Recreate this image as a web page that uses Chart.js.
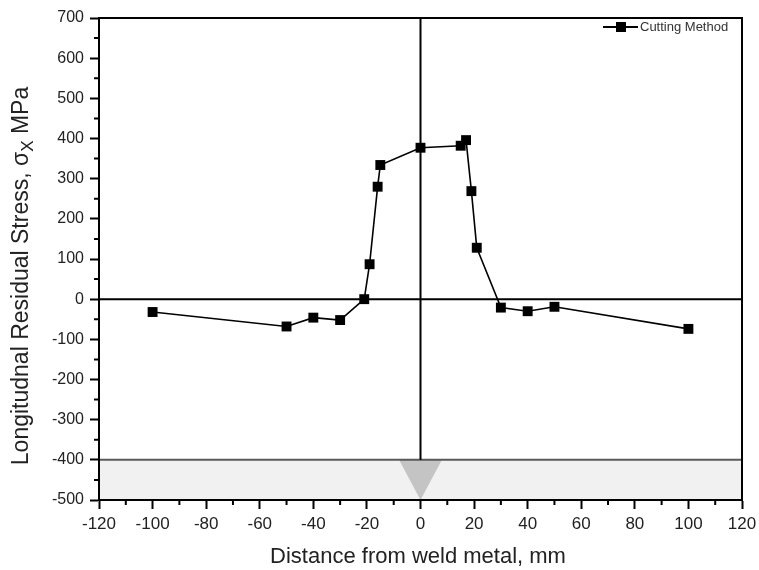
<!DOCTYPE html>
<html>
<head>
<meta charset="utf-8">
<script src="https://cdn.jsdelivr.net/npm/chart.js@4/dist/chart.umd.min.js"></script>
<style>
  html, body { margin: 0; padding: 0; background: #fff; }
  #wrap { width: 759px; height: 570px; }
</style>
</head>
<body>
<div id="wrap"><canvas id="c" width="759" height="570"></canvas></div>
<script>
"use strict";
// Longitudinal residual stress vs distance from weld, cutting method.
const distMm = [-100, -50, -40, -30, -21, -19, -16, -15, 0, 15, 17, 19, 21, 30, 40, 50, 100];
const stressMPa = [-32, -68, -46, -52, 0, 87, 280, 334, 377, 382, 396, 269, 128, -21, -30, -19, -74];
const seriesName = "Cutting Method";
const xTitle = "Distance from weld metal, mm";
const yTitleParts = ["Longitudnal Residual Stress, \u03C3", "X", " MPa"];
const xRange = [-120, 120], xMajor = 20, xMinor = 10;
const yRange = [-500, 700], yMajor = 100, yMinor = 50;
// plate band under the plot and the weld groove (triangle)
const plateTop = -400, plateBottom = -500;
const weldX = [-8, 8, 0], weldY = [-400, -400, -500];

const FONT = "'Liberation Sans', Arial, sans-serif";

const decor = {
  id: "decor",
  beforeDatasetsDraw(chart) {
    const { ctx, chartArea: a, scales: { x, y } } = chart;
    ctx.save();
    // plate band
    ctx.fillStyle = "#f1f1f1";
    ctx.fillRect(a.left, y.getPixelForValue(plateTop), a.right - a.left, y.getPixelForValue(plateBottom) - y.getPixelForValue(plateTop));
    // weld triangle
    ctx.fillStyle = "#c4c4c4";
    ctx.beginPath();
    weldX.forEach((v, i) => {
      const px = x.getPixelForValue(v), py = y.getPixelForValue(weldY[i]);
      i ? ctx.lineTo(px, py) : ctx.moveTo(px, py);
    });
    ctx.closePath(); ctx.fill();
    // plate top edge
    ctx.strokeStyle = "#5a5a5a"; ctx.lineWidth = 2;
    ctx.beginPath();
    ctx.moveTo(a.left, y.getPixelForValue(plateTop)); ctx.lineTo(a.right, y.getPixelForValue(plateTop));
    ctx.stroke();
    // zero lines
    ctx.strokeStyle = "#000";
    ctx.beginPath();
    ctx.moveTo(a.left, y.getPixelForValue(0)); ctx.lineTo(a.right, y.getPixelForValue(0));
    ctx.moveTo(x.getPixelForValue(0), a.top); ctx.lineTo(x.getPixelForValue(0), y.getPixelForValue(plateTop));
    ctx.stroke();
    ctx.restore();
  },
  afterDraw(chart) {
    const { ctx, chartArea: a, scales: { x, y } } = chart;
    ctx.save();
    // frame
    ctx.strokeStyle = "#000"; ctx.lineWidth = 2;
    ctx.strokeRect(a.left, a.top, a.right - a.left, a.bottom - a.top);
    // minor ticks
    ctx.beginPath();
    for (let v = xRange[0]; v <= xRange[1]; v += xMinor) {
      if (v % xMajor === 0) continue;
      const px = x.getPixelForValue(v);
      ctx.moveTo(px, a.bottom); ctx.lineTo(px, a.bottom + 5);
    }
    for (let v = yRange[0]; v <= yRange[1]; v += yMinor) {
      if (v % yMajor === 0) continue;
      const py = y.getPixelForValue(v);
      ctx.moveTo(a.left, py); ctx.lineTo(a.left - 5, py);
    }
    ctx.stroke();
    // axis titles
    ctx.fillStyle = "#222";
    ctx.font = "22px " + FONT;
    ctx.textAlign = "center"; ctx.textBaseline = "middle";
    ctx.fillText(xTitle, 418, 557);
    ctx.translate(28, 276);
    ctx.rotate(-Math.PI / 2);
    ctx.textBaseline = "alphabetic"; ctx.textAlign = "left";
    const big = "23px " + FONT, small = "17px " + FONT;
    ctx.font = big; const w0 = ctx.measureText(yTitleParts[0]).width;
    ctx.font = small; const w1 = ctx.measureText(yTitleParts[1]).width;
    ctx.font = big; const w2 = ctx.measureText(yTitleParts[2]).width;
    let sx = -(w0 + w1 + w2) / 2;
    ctx.font = big; ctx.fillText(yTitleParts[0], sx, 0); sx += w0;
    ctx.font = small; ctx.fillText(yTitleParts[1], sx, 5); sx += w1;
    ctx.font = big; ctx.fillText(yTitleParts[2], sx, 0);
    ctx.restore();
    // legend
    ctx.save();
    const ly = 27, lx = 603;
    ctx.strokeStyle = "#000"; ctx.lineWidth = 2;
    ctx.beginPath(); ctx.moveTo(lx, ly); ctx.lineTo(lx + 35, ly); ctx.stroke();
    ctx.fillStyle = "#000"; ctx.fillRect(lx + 13, ly - 5, 10, 10);
    ctx.fillStyle = "#333"; ctx.font = "13px " + FONT;
    ctx.textBaseline = "middle"; ctx.textAlign = "left";
    ctx.fillText(chart.data.datasets[0].label, lx + 37, ly);
    ctx.restore();
  }
};

new Chart(document.getElementById("c"), {
  type: "scatter",
  data: {
    datasets: [{
      label: seriesName,
      data: distMm.map((d, i) => ({ x: d, y: stressMPa[i] })),
      showLine: true,
      borderColor: "#000", borderWidth: 1.6,
      backgroundColor: "#000",
      pointStyle: "rect", pointRadius: 7, pointHoverRadius: 7,
      pointBorderWidth: 0
    }]
  },
  options: {
    responsive: false, animation: false, devicePixelRatio: 1,
    layout: { padding: { top: 18, right: 17, left: 0, bottom: 0 } },
    plugins: { legend: { display: false }, tooltip: { enabled: false } },
    scales: {
      x: {
        type: "linear", min: xRange[0], max: xRange[1],
        afterFit: (s) => { s.height = 70; s.paddingRight = 0; s.paddingLeft = 0; },
        ticks: { stepSize: xMajor, color: "#222", padding: 5, font: { family: FONT, size: 17 } },
        grid: { drawOnChartArea: false, drawTicks: true, tickLength: 9, tickWidth: 2, tickColor: "#000" },
        border: { display: true, color: "#000", width: 2 }
      },
      y: {
        type: "linear", min: yRange[0], max: yRange[1],
        afterFit: (s) => { s.width = 99; s.paddingTop = 0; s.paddingBottom = 0; },
        ticks: { stepSize: yMajor, color: "#222", padding: 6, font: { family: FONT, size: 16 } },
        grid: { drawOnChartArea: false, drawTicks: true, tickLength: 9, tickWidth: 2, tickColor: "#000" },
        border: { display: true, color: "#000", width: 2 }
      }
    }
  },
  plugins: [decor]
});
</script>
</body>
</html>
